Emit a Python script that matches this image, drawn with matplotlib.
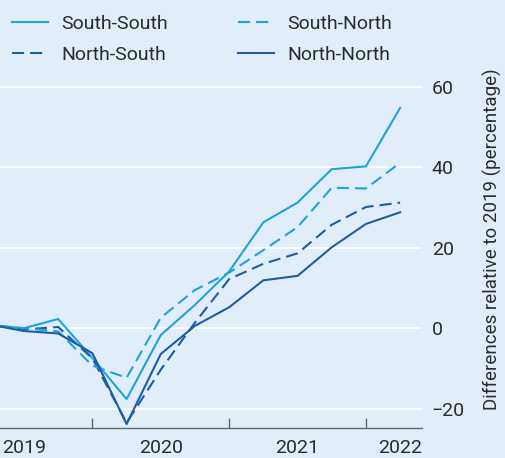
import matplotlib
matplotlib.use("Agg")
import matplotlib.pyplot as plt

# quarter index, idx 0 is cut off at the left edge
quarters = list(range(13))
south_south = [0.8, 0.0, 2.3, -7.4, -17.6, -1.7, 5.8, 14.1, 26.3, 31.2, 39.5, 40.2, 54.7]
south_north = [0.8, 0.0, -0.8, -9.3, -12.3, 2.6, 9.5, 13.8, 19.4, 25.1, 34.9, 34.7, 41.1]
north_south = [0.8, -0.3, 0.3, -7.5, -23.5, -10.3, 1.4, 12.2, 16.0, 18.6, 25.7, 30.1, 31.2]
north_north = [0.9, -0.7, -1.3, -6.2, -23.8, -6.4, 0.6, 5.2, 11.9, 13.0, 20.1, 25.9, 28.8]

year_ticks = [3, 7, 11]
year_label_pos = [1, 5, 9, 12]
year_labels = ["2019", "2020", "2021", "2022"]
y_ticks = [-20, 0, 20, 40, 60]

light = "#1ea3dd"
dark = "#1b5ea3"
bg = "#e1eefa"
txt = "#2b2b2b"

plt.rcParams["font.family"] = ["Roboto", "DejaVu Sans"]

fig = plt.figure(figsize=(5.05, 4.58), dpi=100, facecolor=bg)
ax = fig.add_axes([0.0, 0.0662, 422 / 505, 0.7622], facecolor=bg)

dash = (5.8, 2.9)
ax.plot(quarters, south_south, color=light, lw=1.5, label="South-South")
ax.plot(quarters, north_south, color=dark, lw=1.5, dashes=dash, label="North-South")
ax.plot(quarters, south_north, color=light, lw=1.5, dashes=dash, label="South-North")
ax.plot(quarters, north_north, color=dark, lw=1.5, label="North-North")

ax.set_xlim(0.298, 12.64)
ax.set_ylim(-24.7, 62)

for s in ["top", "left", "right"]:
    ax.spines[s].set_visible(False)
ax.spines["bottom"].set_color("#666666")
ax.spines["bottom"].set_linewidth(1.0)

ax.set_yticks(y_ticks)
ax.set_yticklabels([str(v).replace("-", "\u2212") for v in y_ticks])
ax.yaxis.tick_right()
ax.tick_params(axis="y", length=0, pad=7, labelsize=14, labelcolor=txt)
ax.grid(axis="y", color="white", lw=1.2)
ax.set_axisbelow(True)

ax.set_xticks(year_ticks)
ax.set_xticklabels([])
ax.tick_params(axis="x", which="major", direction="in", length=7, width=1, color="#666666")
ax.set_xticks(year_label_pos, minor=True)
ax.set_xticklabels(year_labels, minor=True)
ax.tick_params(axis="x", which="minor", length=0, pad=8, labelsize=14, labelcolor=txt)

fig.text(492 / 505, 1 - 239 / 458, "Differences relative to 2019 (percentage)",
         rotation=90, ha="center", va="center", fontsize=13.5, color=txt)

leg = ax.legend(loc="upper left", bbox_to_anchor=(12 / 505, 1 - 15 / 458),
                bbox_transform=fig.transFigure, ncol=2, frameon=False,
                fontsize=14, handlelength=1.86, handletextpad=0.67,
                columnspacing=3.6, labelspacing=0.65, borderpad=0, borderaxespad=0)
for t in leg.get_texts():
    t.set_color(txt)

fig.savefig("out.png", dpi=100, facecolor=bg)
